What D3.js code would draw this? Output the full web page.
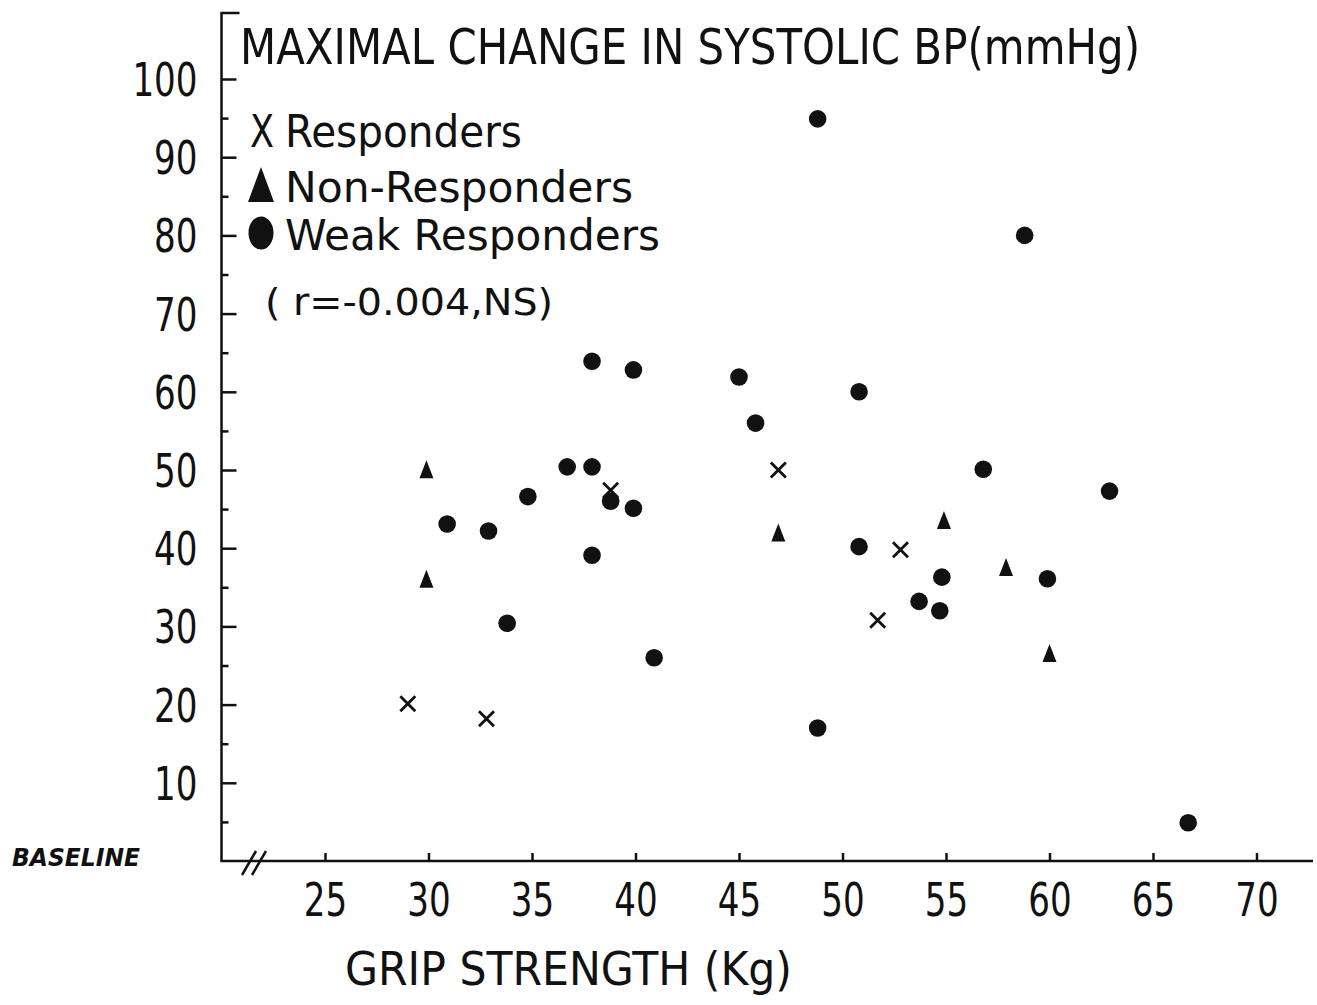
<!DOCTYPE html>
<html>
<head>
<meta charset="utf-8">
<script src="https://cdn.jsdelivr.net/npm/d3@7"></script>
<style>
  body { margin: 0; background: #fff; }
  text { font-family: "DejaVu Sans Condensed", "Liberation Sans Narrow", "DejaVu Sans", sans-serif; fill: #111; }
</style>
</head>
<body>
<div id="chart"></div>
<script>
// Data: [grip strength (kg), max change in systolic BP (mmHg)]
const responders = [
  [29, 20.1], [32.8, 18.2], [38.8, 47.4], [46.9, 50], [51.7, 30.8], [52.8, 39.8]
];
const nonResponders = [
  [29.9, 50.1], [29.9, 36.1], [46.9, 42], [54.9, 43.6], [57.9, 37.6], [60, 26.6]
];
const weakResponders = [
  [48.8, 94.9], [58.8, 80], [37.9, 63.9], [39.9, 62.8], [45, 61.9], [45.8, 56],
  [50.8, 60], [36.7, 50.4], [37.9, 50.4], [34.8, 46.6], [38.8, 46], [39.9, 45.1],
  [30.9, 43.1], [32.9, 42.2], [37.9, 39.1], [33.8, 30.4], [40.9, 26], [48.8, 17],
  [66.7, 4.9], [56.8, 50.1], [62.9, 47.3], [50.8, 40.2], [53.7, 33.2], [54.8, 36.3],
  [54.7, 32], [59.9, 36.1]
];
const xTicks = [25, 30, 35, 40, 45, 50, 55, 60, 65, 70];
const yTicks = [10, 20, 30, 40, 50, 60, 70, 80, 90, 100];
const yMinorTicks = [5, 15, 25, 35, 45, 55, 65, 75, 85, 95];

const width = 1317, height = 1005;
const svg = d3.select("#chart").append("svg")
  .attr("width", width).attr("height", height)
  .style("background", "#fff");

const x = d3.scaleLinear().domain([20, 70]).range([221.5, 1256.5]);
const y = d3.scaleLinear().domain([0, 100]).range([861, 79]);

const ink = "#111";

// Y axis: major ticks (inside), labels on the left
const yAxis = svg.append("g")
  .attr("transform", `translate(${x(20)},0)`)
  .call(d3.axisLeft(y).tickValues(yTicks).tickSize(-15).tickPadding(24));
yAxis.select(".domain").remove();
yAxis.selectAll("line").attr("stroke", ink).attr("stroke-width", 2.5);
yAxis.selectAll("text")
  .attr("font-size", 46).attr("fill", ink)
  .attr("dy", "0.36em")
  .attr("textLength", (d) => String(d).length * 21.7)
  .attr("lengthAdjust", "spacingAndGlyphs");

const yMinor = svg.append("g")
  .attr("transform", `translate(${x(20)},0)`)
  .call(d3.axisLeft(y).tickValues(yMinorTicks).tickSize(-7).tickFormat(""));
yMinor.select(".domain").remove();
yMinor.selectAll("line").attr("stroke", ink).attr("stroke-width", 2.5);

// X axis: ticks upwards
const xAxis = svg.append("g")
  .attr("transform", `translate(0,${y(0)})`)
  .call(d3.axisBottom(x).tickValues(xTicks).tickSize(-8).tickPadding(22));
xAxis.select(".domain").remove();
xAxis.selectAll("line").attr("stroke", ink).attr("stroke-width", 2.5);
xAxis.selectAll("text")
  .attr("font-size", 46).attr("fill", ink)
  .attr("dy", "0.71em")
  .attr("textLength", (d) => String(d).length * 21.7)
  .attr("lengthAdjust", "spacingAndGlyphs");

// axis lines, with the bracket cap on top of the y axis
svg.append("path")
  .attr("d", `M${x(20) + 18},13 H${x(20)} V${y(0)} H${width - 4}`)
  .attr("fill", "none").attr("stroke", ink).attr("stroke-width", 2.5);

// axis break marks //
[0, 10].forEach((off) => {
  svg.append("line")
    .attr("x1", 242 + off).attr("y1", 875)
    .attr("x2", 256 + off).attr("y2", 851)
    .attr("stroke", ink).attr("stroke-width", 2.5);
});

// Markers
svg.selectAll("circle.weak")
  .data(weakResponders)
  .enter().append("circle")
  .attr("class", "weak")
  .attr("cx", (d) => x(d[0])).attr("cy", (d) => y(d[1]))
  .attr("r", 8.8).attr("fill", ink);

svg.selectAll("path.non")
  .data(nonResponders)
  .enter().append("path")
  .attr("class", "non")
  .attr("transform", (d) => `translate(${x(d[0])},${y(d[1])})`)
  .attr("d", "M0,-9 L7,9 L-7,9 Z")
  .attr("fill", ink);

svg.selectAll("path.resp")
  .data(responders)
  .enter().append("path")
  .attr("class", "resp")
  .attr("transform", (d) => `translate(${x(d[0])},${y(d[1])})`)
  .attr("d", "M-7.5,-7.5 L7.5,7.5 M7.5,-7.5 L-7.5,7.5")
  .attr("stroke", ink).attr("stroke-width", 2.8).attr("fill", "none");

// Title and legend
function label(txt, px, py, size, len, extra) {
  const t = svg.append("text")
    .attr("x", px).attr("y", py)
    .attr("font-size", size)
    .attr("textLength", len)
    .attr("lengthAdjust", "spacingAndGlyphs")
    .text(txt);
  if (extra) extra(t);
  return t;
}

label("MAXIMAL CHANGE IN SYSTOLIC BP(mmHg)", 240, 64, 50, 900);
label("X", 250, 147, 44, 24);
label("Responders", 285, 147, 44, 237);
svg.append("path")
  .attr("d", "M261,167 L274,202 L248,202 Z").attr("fill", ink);
label("Non-Responders", 285, 202, 42, 348);
svg.append("ellipse")
  .attr("cx", 261).attr("cy", 233).attr("rx", 12.5).attr("ry", 16.5)
  .attr("fill", ink);
label("Weak  Responders", 285, 250, 42, 375);
label("( r=-0.004,NS)", 265, 315, 38, 288);

label("GRIP STRENGTH (Kg)", 345, 985, 46, 447);
label("BASELINE", 12, 866, 25, 128, (t) =>
  t.attr("font-weight", "bold").attr("font-style", "italic")
   .style("font-family", "'DejaVu Sans', sans-serif"));
</script>
</body>
</html>
